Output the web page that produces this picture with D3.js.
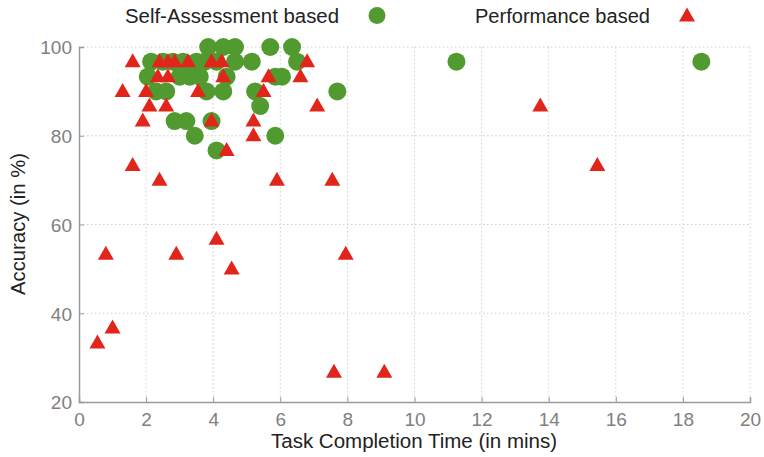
<!DOCTYPE html>
<html>
<head>
<meta charset="utf-8">
<script src="https://cdn.jsdelivr.net/npm/d3@7"></script>
<style>
  html, body { margin: 0; padding: 0; background: #fff; }
  svg { display: block; font-family: "Liberation Sans", Arial, sans-serif; }
</style>
</head>
<body>
<svg id="chart" width="764" height="457"></svg>
<script>
// ---- Data (x: task completion time in mins, y: accuracy in %) ----
const selfTime = [
  3.85, 4.3, 4.65, 5.7, 6.35,
  2.15, 2.5, 2.8, 3.1, 3.5, 3.75, 4.1, 4.65, 5.15, 6.5, 11.25, 18.55,
  2.05, 3.0, 3.3, 3.6, 4.4, 5.85, 6.05,
  2.3, 2.6, 3.8, 4.3, 5.25, 7.7,
  5.4,
  2.85, 3.2, 3.95,
  3.45, 5.85,
  4.1
];
const selfAcc = [
  100, 100, 100, 100, 100,
  96.7, 96.7, 96.7, 96.7, 96.7, 96.7, 96.7, 96.7, 96.7, 96.7, 96.7, 96.7,
  93.3, 93.3, 93.3, 93.3, 93.3, 93.3, 93.3,
  90, 90, 90, 90, 90, 90,
  86.7,
  83.3, 83.3, 83.3,
  80, 80,
  76.7
];
const perfTime = [
  1.6, 2.4, 2.65, 2.85, 3.25, 3.95, 4.25, 6.8,
  2.35, 2.65, 4.3, 5.65, 6.6,
  1.3, 2.0, 3.55, 5.5,
  2.1, 2.6, 7.1, 13.75,
  1.9, 3.95, 5.2,
  5.2,
  4.4,
  1.6, 15.45,
  2.4, 5.9, 7.55,
  4.1,
  0.8, 2.9, 7.95,
  4.55,
  1.0,
  0.55,
  7.6, 9.1
];
const perfAcc = [
  96.7, 96.7, 96.7, 96.7, 96.7, 96.7, 96.7, 96.7,
  93.3, 93.3, 93.3, 93.3, 93.3,
  90, 90, 90, 90,
  86.7, 86.7, 86.7, 86.7,
  83.3, 83.3, 83.3,
  80,
  76.7,
  73.3, 73.3,
  70, 70, 70,
  56.7,
  53.3, 53.3, 53.3,
  50,
  36.7,
  33.3,
  26.7, 26.7
];
const xTicks = [0, 2, 4, 6, 8, 10, 12, 14, 16, 18, 20];
const yTicks = [20, 40, 60, 80, 100];
const legendLabels = ["Self-Assessment based", "Performance based"];
const axisTitles = { x: "Task Completion Time (in mins)", y: "Accuracy (in %)" };

const GREEN = "#519a30";
const RED = "#e2251b";

// ---- Layout ----
const svg = d3.select("#chart");
const mLeft = 79, mRight = 750, mTop = 47, mBottom = 402;

const x = d3.scaleLinear().domain([0, 20]).range([mLeft, mRight]);
const y = d3.scaleLinear().domain([20, 100]).range([mBottom, mTop]);

// grid (dotted)
const grid = svg.append("g");
grid.selectAll(".vg").data(xTicks.filter(d => d > 0)).enter().append("line")
  .attr("x1", d => x(d)).attr("x2", d => x(d))
  .attr("y1", mTop).attr("y2", mBottom)
  .attr("stroke", "#cfcfcf").attr("stroke-width", 1).attr("stroke-dasharray", "1.5,2.5");
grid.selectAll(".hg").data(yTicks.filter(d => d > 20)).enter().append("line")
  .attr("x1", mLeft).attr("x2", mRight)
  .attr("y1", d => y(d)).attr("y2", d => y(d))
  .attr("stroke", "#cfcfcf").attr("stroke-width", 1).attr("stroke-dasharray", "1.5,2.5");

// axes
const xAxis = d3.axisBottom(x).tickValues(xTicks).tickSize(-5).tickPadding(11).tickFormat(d3.format("d"));
const yAxis = d3.axisLeft(y).tickValues(yTicks).tickSize(-5).tickPadding(7).tickFormat(d3.format("d"));

const gx = svg.append("g").attr("transform", `translate(0,${mBottom})`).call(xAxis);
const gy = svg.append("g").attr("transform", `translate(${mLeft},0)`).call(yAxis);
[gx, gy].forEach(g => {
  g.select(".domain").attr("stroke", "#9a9a9a").attr("stroke-width", 1.5);
  g.selectAll(".tick line").attr("stroke", "#9a9a9a").attr("stroke-width", 1);
  g.selectAll(".tick text").attr("fill", "#808080").attr("font-size", 19)
    .attr("font-family", "'Liberation Sans', Arial, sans-serif");
});
gy.selectAll(".tick text").attr("dy", "0.36em");

// axis titles
svg.append("text").attr("x", 414).attr("y", 448)
  .attr("text-anchor", "middle").attr("font-size", 20).attr("fill", "#222")
  .attr("textLength", 286).attr("lengthAdjust", "spacingAndGlyphs")
  .text(axisTitles.x);
svg.append("text")
  .attr("transform", `translate(25,224) rotate(-90)`)
  .attr("text-anchor", "middle").attr("font-size", 20).attr("fill", "#222")
  .attr("textLength", 142).attr("lengthAdjust", "spacingAndGlyphs")
  .text(axisTitles.y);

// markers
const triPath = "M0,-8.5L8,5.5L-8,5.5Z";
const selfData = selfTime.map((t, i) => ({ t, a: selfAcc[i] }));
const perfData = perfTime.map((t, i) => ({ t, a: perfAcc[i] }));

svg.append("g").selectAll("circle").data(selfData).enter().append("circle")
  .attr("cx", d => x(d.t)).attr("cy", d => y(d.a)).attr("r", 9)
  .attr("fill", GREEN);

svg.append("g").selectAll("path").data(perfData).enter().append("path")
  .attr("transform", d => `translate(${x(d.t)},${y(d.a)})`)
  .attr("d", triPath).attr("fill", RED);

// legend
const lg = svg.append("g");
lg.append("text").attr("x", 125).attr("y", 23).attr("font-size", 20).attr("fill", "#222")
  .attr("textLength", 214).attr("lengthAdjust", "spacingAndGlyphs")
  .text(legendLabels[0]);
lg.append("circle").attr("cx", 377).attr("cy", 15.5).attr("r", 8.5).attr("fill", GREEN);
lg.append("text").attr("x", 475).attr("y", 23).attr("font-size", 20).attr("fill", "#222")
  .attr("textLength", 175).attr("lengthAdjust", "spacingAndGlyphs")
  .text(legendLabels[1]);
lg.append("path").attr("transform", "translate(687,16)").attr("d", triPath).attr("fill", RED);
</script>
</body>
</html>
